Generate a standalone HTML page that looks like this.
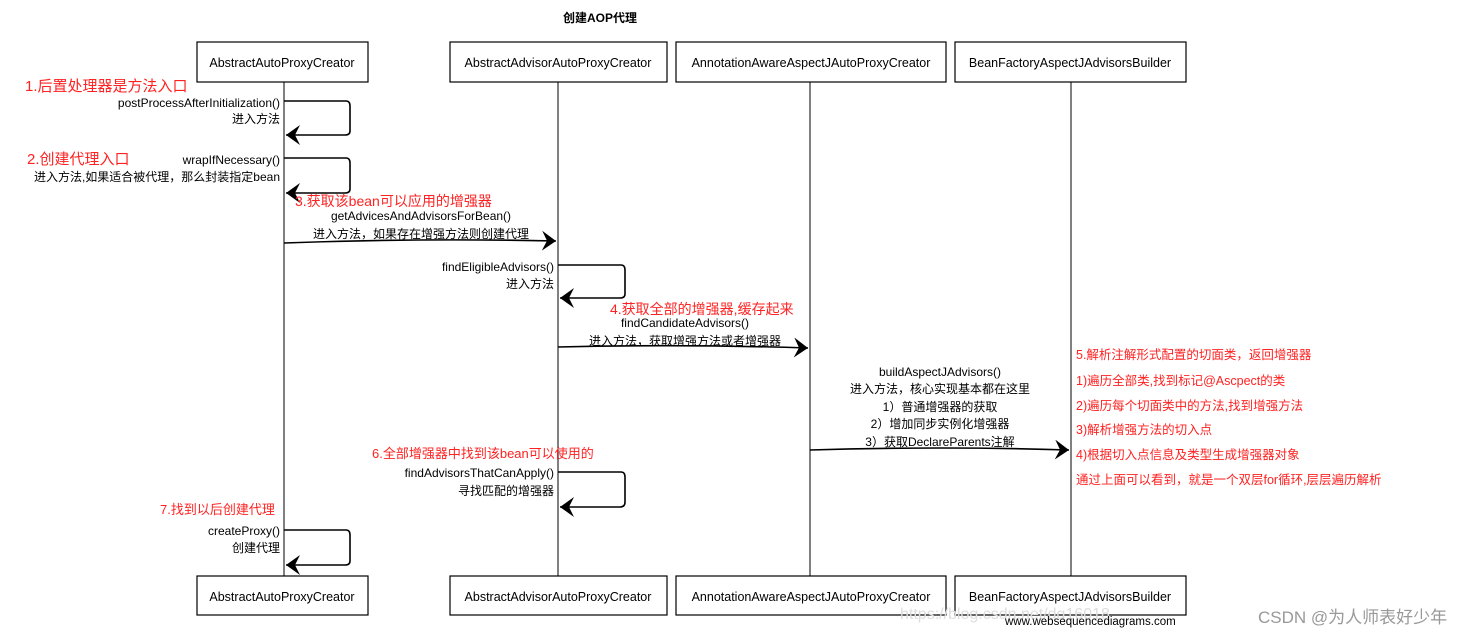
<!DOCTYPE html>
<html><head><meta charset="utf-8"><style>
html,body{margin:0;padding:0;background:#fff;}
svg{display:block}
text{font-family:"Liberation Sans","Noto Sans CJK SC",sans-serif;}
</style></head><body>
<svg width="1473" height="638" viewBox="0 0 1473 638" xmlns="http://www.w3.org/2000/svg">
<defs>
<marker id="ah" markerWidth="16" markerHeight="20" refX="14" refY="10" orient="auto" markerUnits="userSpaceOnUse">
<path d="M0,0 L14,10 L0,20 L5,10 Z" fill="#000"/>
</marker>
</defs>
<text x="600" y="22" font-size="12" font-weight="bold" text-anchor="middle">创建AOP代理</text>
<g fill="#fff" stroke="#000" stroke-width="1.2">
<rect x="197" y="42" width="171" height="40"/>
<rect x="450" y="42" width="217" height="40"/>
<rect x="676" y="42" width="270" height="40"/>
<rect x="955" y="42" width="231" height="40"/>
<rect x="197" y="576" width="171" height="39"/>
<rect x="450" y="576" width="217" height="39"/>
<rect x="676" y="576" width="270" height="39"/>
<rect x="955" y="576" width="231" height="39"/>
</g>
<g font-size="12.5" text-anchor="middle">
<text x="282" y="67">AbstractAutoProxyCreator</text>
<text x="558" y="67">AbstractAdvisorAutoProxyCreator</text>
<text x="811" y="67">AnnotationAwareAspectJAutoProxyCreator</text>
<text x="1070" y="67">BeanFactoryAspectJAdvisorsBuilder</text>
<text x="282" y="601">AbstractAutoProxyCreator</text>
<text x="558" y="601">AbstractAdvisorAutoProxyCreator</text>
<text x="811" y="601">AnnotationAwareAspectJAutoProxyCreator</text>
<text x="1070" y="601">BeanFactoryAspectJAdvisorsBuilder</text>
</g>
<g stroke="#000" stroke-width="1">
<line x1="284" y1="82" x2="284" y2="576"/>
<line x1="558" y1="82" x2="558" y2="576"/>
<line x1="810" y1="82" x2="810" y2="576"/>
<line x1="1071" y1="82" x2="1071" y2="576"/>
</g>
<g fill="none" stroke="#000" stroke-width="1.6" marker-end="url(#ah)">
<path d="M284,101 L346,101 Q350,101 350,106 L350,131 Q350,135 345,135 L286,135"/>
<path d="M284,158 L346,158 Q350,158 350,163 L350,189 Q350,193 345,193 L286,193"/>
<path d="M284,243 Q420,238 556,241"/>
<path d="M558,265 L621,265 Q625,265 625,270 L625,294 Q625,298 620,298 L560,298"/>
<path d="M558,347 Q684,344 808,348"/>
<path d="M810,450 Q940,446 1069,450"/>
<path d="M558,472 L621,472 Q625,472 625,477 L625,502 Q625,507 620,507 L560,507"/>
<path d="M284,530 L346,530 Q350,530 350,535 L350,561 Q350,565 345,565 L286,565"/>
</g>
<g font-size="12" text-anchor="end">
<text x="280" y="107">postProcessAfterInitialization()</text>
<text x="280" y="123">进入方法</text>
<text x="280" y="164">wrapIfNecessary()</text>
<text x="280" y="181">进入方法,如果适合被代理，那么封装指定bean</text>
<text x="554" y="271">findEligibleAdvisors()</text>
<text x="554" y="288">进入方法</text>
<text x="554" y="477">findAdvisorsThatCanApply()</text>
<text x="554" y="495">寻找匹配的增强器</text>
<text x="280" y="535">createProxy()</text>
<text x="280" y="552">创建代理</text>
</g>
<g font-size="12" text-anchor="middle">
<text x="421" y="220">getAdvicesAndAdvisorsForBean()</text>
<text x="421" y="238">进入方法，如果存在增强方法则创建代理</text>
<text x="685" y="327">findCandidateAdvisors()</text>
<text x="685" y="345">进入方法，获取增强方法或者增强器</text>
<text x="940" y="376">buildAspectJAdvisors()</text>
<text x="940" y="393">进入方法，核心实现基本都在这里</text>
<text x="940" y="411">1）普通增强器的获取</text>
<text x="940" y="428">2）增加同步实例化增强器</text>
<text x="940" y="446">3）获取DeclareParents注解</text>
</g>
<g fill="#ff2222">
<text x="25" y="91" font-size="15">1.后置处理器是方法入口</text>
<text x="27" y="164" font-size="15">2.创建代理入口</text>
<text x="295" y="206" font-size="14">3.获取该bean可以应用的增强器</text>
<text x="610" y="314" font-size="14">4.获取全部的增强器,缓存起来</text>
<text x="372" y="458" font-size="13">6.全部增强器中找到该bean可以使用的</text>
<text x="160" y="514" font-size="13">7.找到以后创建代理</text>
<g font-size="12.5">
<text x="1076" y="359">5.解析注解形式配置的切面类，返回增强器</text>
<text x="1076" y="385">1)遍历全部类,找到标记@Ascpect的类</text>
<text x="1076" y="410">2)遍历每个切面类中的方法,找到增强方法</text>
<text x="1076" y="434">3)解析增强方法的切入点</text>
<text x="1076" y="459">4)根据切入点信息及类型生成增强器对象</text>
<text x="1076" y="484">通过上面可以看到，就是一个双层for循环,层层遍历解析</text>
</g>
</g>
<text x="900" y="619" font-size="16" fill="#ddd" font-family="Liberation Serif,serif">https://blog.csdn.net/dq16018</text>
<text x="1005" y="625" font-size="11.5">www.websequencediagrams.com</text>
<text x="1258" y="623" font-size="17" fill="#999">CSDN @为人师表好少年</text>
</svg>
</body></html>
